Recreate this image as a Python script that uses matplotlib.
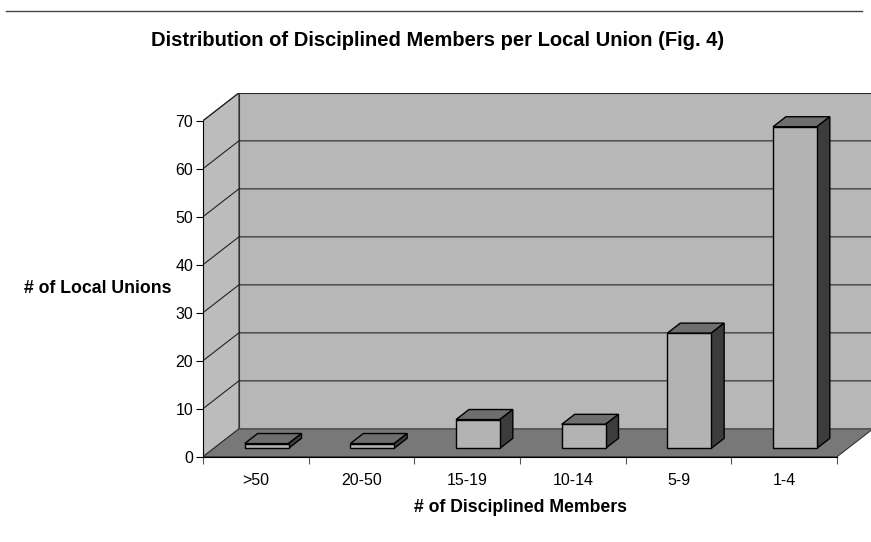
"""
Distribution of disciplined members per local union (Fig. 4), Excel-style 3D columns.
"""
import numpy as np
import matplotlib.pyplot as plt
from matplotlib.patches import Polygon
from matplotlib.lines import Line2D

plt.rcParams['font.family'] = ['Liberation Sans', 'DejaVu Sans']

categories = ['>50', '20-50', '15-19', '10-14', '5-9', '1-4']
local_unions = [1, 1, 6, 5, 24, 67]
y_ticks = [0, 10, 20, 30, 40, 50, 60, 70]

# oblique depth of the box, in data units
DX, DY = 0.34, 5.8
Y_MAX = 70
BAR_W = 0.415
F0, BD = 0.30, 0.36   # bar front position and bar depth (fraction of box depth)
n = len(categories)

fig = plt.figure(figsize=(8.71, 5.42), dpi=100)
ax = fig.add_axes([203 / 871, 1 - 456.7 / 542,
                   (n + DX) * 105.67 / 871, (Y_MAX + DY) * 4.8 / 542])
ax.set_xlim(0, n + DX)
ax.set_ylim(0, Y_MAX + DY)
ax.patch.set_visible(False)

# walls and floor
ax.add_patch(Polygon([(DX, DY), (n + DX, DY), (n + DX, Y_MAX + DY), (DX, Y_MAX + DY)],
                     closed=True, fc='#b7b7b7', ec='#333333', lw=0.8, zorder=1))
ax.add_patch(Polygon([(0, 0), (DX, DY), (DX, Y_MAX + DY), (0, Y_MAX)],
                     closed=True, fc='#bcbcbc', ec='#333333', lw=0.8, zorder=1))
ax.add_patch(Polygon([(0, 0), (n, 0), (n + DX, DY), (DX, DY)],
                     closed=True, fc='#787878', ec='#333333', lw=0.8, zorder=2))

# gridlines on the left and back walls
for v in y_ticks[1:]:
    ax.plot([0, DX, n + DX], [v, v + DY, v + DY], color='#222222', lw=0.8, zorder=1.5)

# columns
x0 = np.arange(n) + 0.5 + F0 * DX
base = F0 * DY
ax.bar(x0, local_unions, width=BAR_W, bottom=base, color='#b3b3b3',
       edgecolor='black', linewidth=1, zorder=5)
for xc, v in zip(x0, local_unions):
    xl, xr = xc - BAR_W / 2, xc + BAR_W / 2
    top = base + v
    ax.add_patch(Polygon([(xl, top), (xr, top), (xr + BD * DX, top + BD * DY),
                          (xl + BD * DX, top + BD * DY)],
                         closed=True, fc='#6e6e6e', ec='black', lw=1, zorder=4))
    ax.add_patch(Polygon([(xr, base), (xr + BD * DX, base + BD * DY),
                          (xr + BD * DX, top + BD * DY), (xr, top)],
                         closed=True, fc='#3c3c3c', ec='black', lw=1, zorder=4))

# axes
for s in ['top', 'right']:
    ax.spines[s].set_visible(False)
ax.spines['left'].set_bounds(0, Y_MAX)
ax.spines['bottom'].set_bounds(0, n)
ax.spines['left'].set_linewidth(0.8)
ax.spines['bottom'].set_linewidth(0.8)
ax.set_yticks(y_ticks)
ax.tick_params(axis='y', length=5, width=0.8, labelsize=11.5, pad=2)
ax.set_xticks(range(n + 1))
ax.set_xticklabels([''] * (n + 1))
ax.set_xticks(np.arange(n) + 0.5, minor=True)
ax.set_xticklabels(categories, minor=True)
ax.tick_params(axis='x', which='major', length=5, width=0.8, color='#555555')
ax.tick_params(axis='x', which='minor', length=0, labelsize=11.5, pad=12)

ax.set_xlabel('# of Disciplined Members', fontsize=12.7, fontweight='bold')
ax.xaxis.set_label_coords((n / 2) / (n + DX), -0.115)
ax.set_ylabel('# of Local Unions', fontsize=12.7, fontweight='bold', rotation=0,
              ha='center', va='center')
ax.yaxis.set_label_coords(-0.157, 35 / (Y_MAX + DY))

fig.text(438 / 871, 1 - 41 / 542, 'Distribution of Disciplined Members per Local Union (Fig. 4)',
         ha='center', va='center', fontsize=14.5, fontweight='bold')
fig.add_artist(Line2D([6 / 871, 862 / 871], [1 - 11 / 542] * 2, color='#444444', lw=1))

plt.savefig('out.png', dpi=100)
plt.close()
